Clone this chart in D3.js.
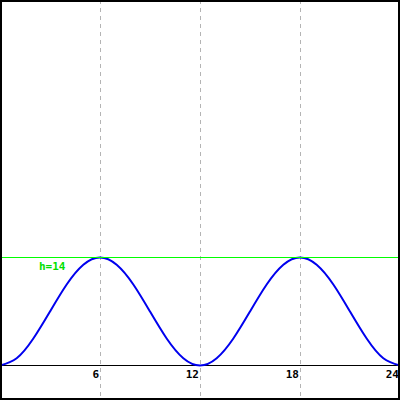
<!DOCTYPE html>
<html>
<head>
<script src="https://d3js.org/d3.v7.min.js"></script>
<style>
  body { margin: 0; background: #fff; }
  text { font-family: "DejaVu Sans Mono", monospace; font-weight: bold; font-size: 11px; }
</style>
</head>
<body>
<script>
// hours and water height (one value per hour)
var hours = d3.range(0, 25);
var heights = [0, 0.94, 3.5, 7, 10.5, 13.06, 14, 13.06, 10.5, 7, 3.5, 0.94, 0,
               0.94, 3.5, 7, 10.5, 13.06, 14, 13.06, 10.5, 7, 3.5, 0.94, 0];
var tickHours = [6, 12, 18, 24];
var gridHours = [6, 12, 18];
var level = 14;

var width = 400, height = 400;

var svg = d3.select("body").append("svg")
    .attr("width", width)
    .attr("height", height);

var x = d3.scaleLinear().domain([0, 24]).range([0, 400]);
var y = d3.scaleLinear().domain([0, 14]).range([365.5, 257.5]);

// dashed verticals
svg.selectAll("line.grid")
    .data(gridHours)
    .enter().append("line")
    .attr("class", "grid")
    .attr("x1", function (d) { return x(d) + 0.5; })
    .attr("x2", function (d) { return x(d) + 0.5; })
    .attr("y1", 0).attr("y2", height)
    .style("stroke", "#b4b4b4")
    .style("stroke-dasharray", "4,4")
    .style("shape-rendering", "crispEdges");

// x axis line
svg.append("line")
    .attr("x1", 0).attr("x2", width)
    .attr("y1", y(0)).attr("y2", y(0))
    .style("stroke", "#000")
    .style("stroke-width", 1)
    .style("shape-rendering", "crispEdges");

// tick labels
svg.selectAll("text.tick")
    .data(tickHours)
    .enter().append("text")
    .attr("class", "tick")
    .attr("x", function (d) { return x(d) - 1; })
    .attr("y", 378)
    .attr("text-anchor", "end")
    .style("fill", "#000")
    .text(function (d) { return d; });

// curve
var line = d3.line()
    .x(function (d, i) { return x(hours[i]); })
    .y(function (d) { return y(d); })
    .curve(d3.curveNatural);

svg.append("path")
    .datum(heights)
    .attr("d", line)
    .style("fill", "none")
    .style("stroke", "#0000ee")
    .style("stroke-width", 2);

// level line
svg.append("line")
    .attr("x1", 0).attr("x2", width)
    .attr("y1", y(level)).attr("y2", y(level))
    .style("stroke", "#00ff00")
    .style("stroke-width", 1)
    .style("shape-rendering", "crispEdges");

svg.append("text")
    .attr("x", 39)
    .attr("y", 269.5)
    .style("fill", "#00e000")
    .text("h=" + level);

// frame
svg.append("rect")
    .attr("x", 1).attr("y", 1)
    .attr("width", width - 2).attr("height", height - 2)
    .style("fill", "none")
    .style("stroke", "#000")
    .style("stroke-width", 2)
    .style("shape-rendering", "crispEdges");
</script>
</body>
</html>
